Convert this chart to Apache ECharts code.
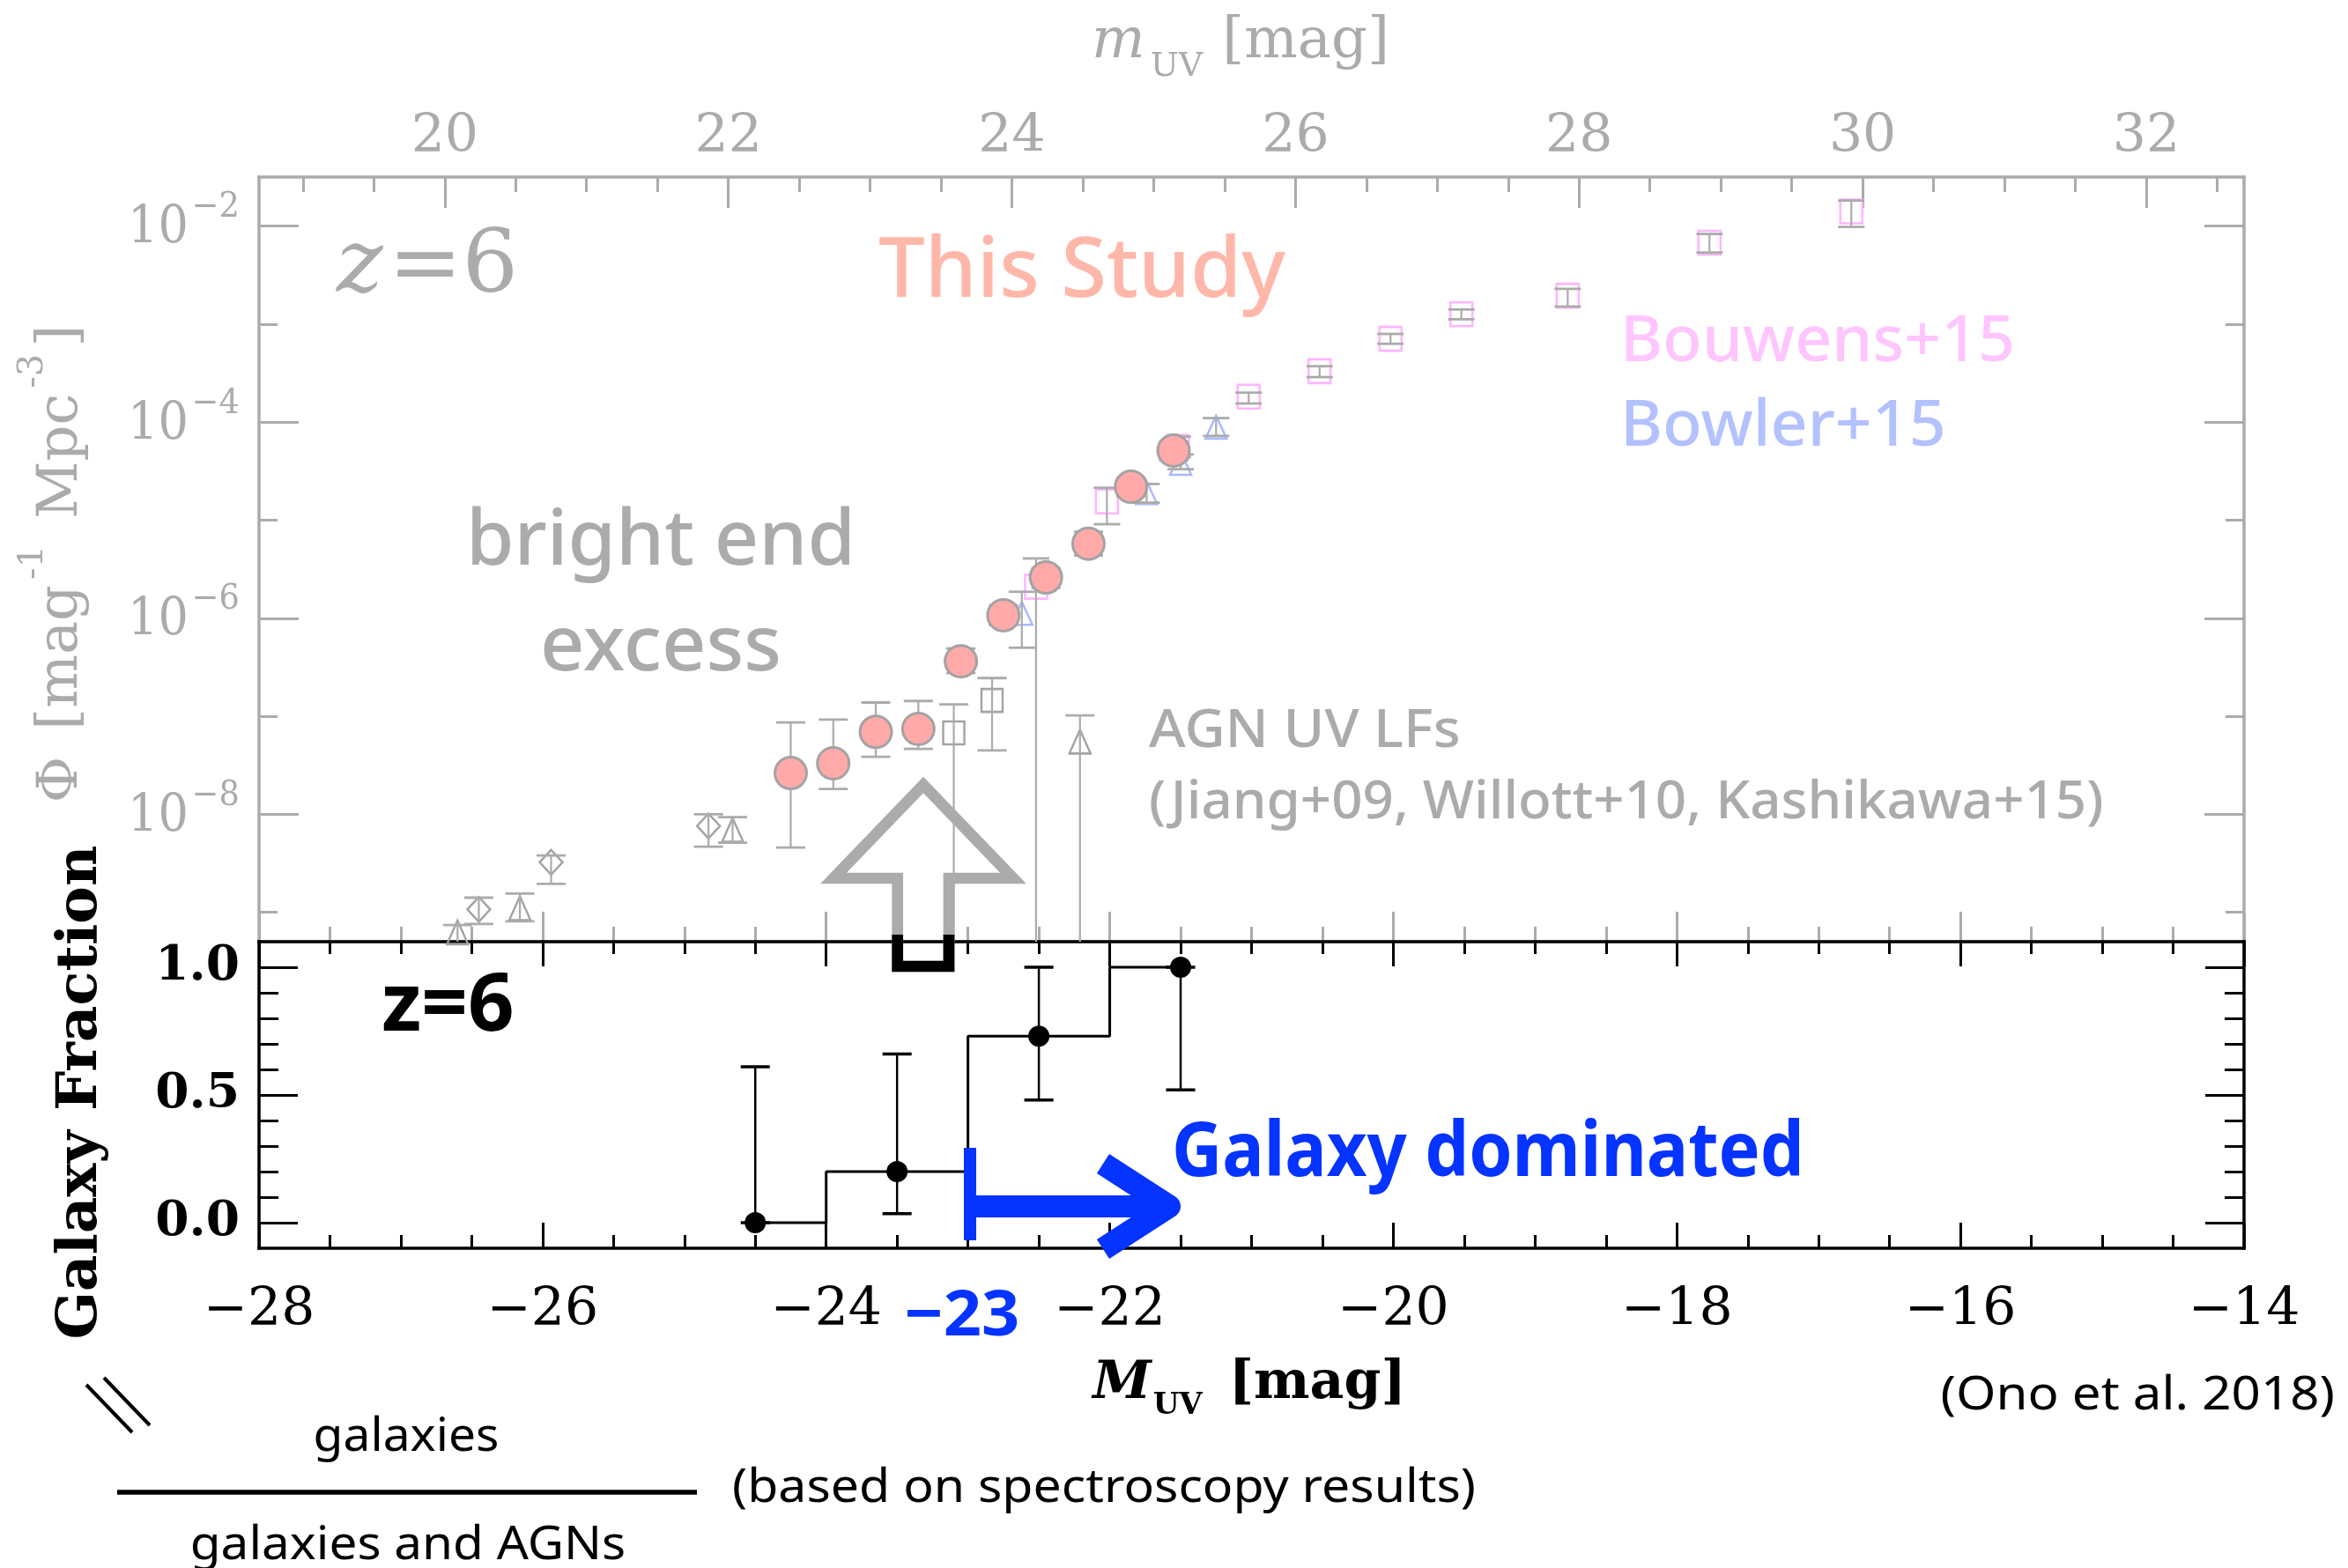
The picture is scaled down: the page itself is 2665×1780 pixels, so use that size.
<!DOCTYPE html>
<html>
<head>
<meta charset="utf-8">
<title>UV LF z=6 with galaxy fraction</title>
<script src="https://cdn.jsdelivr.net/npm/echarts@6.0.0/dist/echarts.min.js"></script>
<style>
html,body{margin:0;padding:0;background:#ffffff;}
#chart{width:2665px;height:1780px;}
</style>
</head>
<body>
<div id="chart"></div>
<script>
// ================= DATA =================
// This Study (pink circles): M_UV, Phi, lower / upper error ends
const studyM     = [-24.25, -23.95, -23.65, -23.35, -23.05, -22.75, -22.45, -22.15, -21.85, -21.55];
const studyPhi   = [2.63e-8, 3.31e-8, 6.92e-8, 7.41e-8, 3.63e-7, 1.07e-6, 2.60e-6, 5.75e-6, 2.19e-5, 5.13e-5];
const studyPhiLo = [4.58e-9, 1.81e-8, 3.86e-8, 4.65e-8, 2.75e-7, 8.5e-7, 2.04e-6, 4.37e-6, 1.74e-5, 4.07e-5];
const studyPhiHi = [8.63e-8, 9.25e-8, 1.38e-7, 1.43e-7, 4.9e-7, 1.35e-6, 3.24e-6, 7.6e-6, 2.69e-5, 6.3e-5];

// Bouwens+15 (pink squares); lower = 0 means the bar runs off the bottom
const bouwensM     = [-22.52, -22.02, -21.52, -21.02, -20.52, -20.02, -19.52, -18.77, -17.77, -16.77];
const bouwensPhi   = [2.09e-6, 1.55e-5, 5.6e-5, 1.82e-4, 3.31e-4, 7.08e-4, 1.26e-3, 1.95e-3, 6.76e-3, 1.41e-2];
const bouwensPhiLo = [0, 9.1e-6, 4.4e-5, 1.55e-4, 2.88e-4, 6.3e-4, 1.12e-3, 1.51e-3, 5.37e-3, 9.8e-3];
const bouwensPhiHi = [4.07e-6, 2.14e-5, 7.1e-5, 2.0e-4, 3.72e-4, 7.94e-4, 1.41e-3, 2.29e-3, 8.3e-3, 1.82e-2];

// Bowler+15 (blue triangles)
const bowlerM     = [-22.62, -21.74, -21.50, -21.25];
const bowlerPhi   = [1.12e-6, 1.91e-5, 3.8e-5, 8.9e-5];
const bowlerPhiLo = [5.0e-7, 1.51e-5, 3.31e-5, 7.24e-5];
const bowlerPhiHi = [1.86e-6, 2.34e-5, 4.68e-5, 1.10e-4];

// AGN UV LFs (grey): diamonds, triangles, squares
const agnDiaM     = [-26.45, -25.94, -24.83];
const agnDiaPhi   = [1.07e-9, 3.24e-9, 7.59e-9];
const agnDiaPhiLo = [7.6e-10, 1.95e-9, 4.68e-9];
const agnDiaPhiHi = [1.41e-9, 3.8e-9, 1.0e-8];
const agnTriM     = [-26.60, -26.16, -24.66, -22.21];
const agnTriPhi   = [6.24e-10, 1.10e-9, 6.92e-9, 5.5e-8];
const agnTriPhiLo = [0, 8.1e-10, 5.13e-9, 0];
const agnTriPhiHi = [7.4e-10, 1.55e-9, 9.33e-9, 1.02e-7];
const agnSqM      = [-23.10, -22.83];
const agnSqPhi    = [6.76e-8, 1.45e-7];
const agnSqPhiLo  = [0, 4.47e-8];
const agnSqPhiHi  = [1.32e-7, 2.45e-7];

// Galaxy fraction (lower panel)
const fracM  = [-24.5, -23.5, -22.5, -21.5];
const fracV  = [0.00, 0.20, 0.73, 1.00];
const fracLo = [0.00, 0.035, 0.48, 0.52];
const fracHi = [0.61, 0.66, 1.00, 1.00];

// Axis ticks & labels
const M_MIN = -28, M_MAX = -14;
const M_OFFSET = 46.69;                 // m_UV - M_UV
const M_MAJOR  = [-28, -26, -24, -22, -20, -18, -16, -14];
const M_LABELS = ['\u221228', '\u221226', '\u221224', '\u221222', '\u221220', '\u221218', '\u221216', '\u221214'];
const m_MAJOR  = [20, 22, 24, 26, 28, 30, 32];
const m_LABELS = ['20', '22', '24', '26', '28', '30', '32'];
const PHI_MIN = Math.pow(10, -9.3), PHI_MAX = Math.pow(10, -1.5);
const PHI_MAJOR = [1e-8, 1e-6, 1e-4, 1e-2];
const PHI_EXP   = ['\u22128', '\u22126', '\u22124', '\u22122'];
const PHI_MINOR = [1e-9, 1e-7, 1e-5, 1e-3];
const FRAC_MAJOR  = [0, 0.5, 1];
const FRAC_LABELS = ['0.0', '0.5', '1.0'];
const FRAC_MINOR  = [0, 0.1, 0.2, 0.3, 0.4, 0.5, 0.6, 0.7, 0.8, 0.9, 1.0];

// minor tick positions (every 0.5 mag)
const M_MINOR = [], m_MINOR = [];
for (let v = M_MIN; v <= M_MAX + 1e-9; v += 0.5) M_MINOR.push(v);
for (let v = 19; v <= 32.5 + 1e-9; v += 0.5) m_MINOR.push(v);

// ================= STYLE =================
const GREY = '#ababab';
const BLUE = '#0533ff';
const SERIF = "'DejaVu Serif', 'Liberation Serif', serif";
const SANS = "'Noto Sans', 'Open Sans', sans-serif";

const L = 294, R = 2665 - 2547, TOP = 201, HUP = 868, HLO = 348;
const grids = [
  {left: L, right: R, top: TOP, height: HUP},
  {left: L, right: R, top: TOP, height: HUP},
  {left: L, right: R, top: TOP + HUP, height: HLO},
  {left: L, right: R, top: TOP + HUP, height: HLO}
].map(g => Object.assign({containLabel: false, outerBoundsMode: 'none', show: false}, g));

function mkAxis(o) {
  return {
    type: o.type || 'value', gridIndex: o.grid, position: o.pos,
    min: o.min, max: o.max, logBase: 10, silent: true, z: o.z || 0,
    splitLine: {show: false}, splitArea: {show: false}, axisPointer: {show: false},
    axisLine: {show: !!o.line, onZero: false, lineStyle: {color: o.color, width: 3.5, cap: 'square'}},
    axisTick: {show: true, inside: true, length: o.tickLen, customValues: o.ticks,
               lineStyle: {color: o.color, width: 3}},
    axisLabel: o.labels ? Object.assign({show: true, customValues: o.labels}, o.labelStyle) : {show: false}
  };
}
const idxOf = (arr, v) => arr.findIndex(a => Math.abs(a - v) < 1e-6);

const xAxes = [
  mkAxis({grid: 0, pos: 'bottom', min: M_MIN, max: M_MAX, line: true, color: GREY, tickLen: 34, ticks: M_MAJOR}),
  mkAxis({grid: 0, pos: 'top', min: M_MIN + M_OFFSET, max: M_MAX + M_OFFSET, line: true, color: GREY, tickLen: 35, ticks: m_MAJOR,
          labels: m_MAJOR, labelStyle: {color: GREY, fontFamily: SERIF, fontSize: 60, margin: 15,
          formatter: v => m_LABELS[idxOf(m_MAJOR, v)]}}),
  mkAxis({grid: 1, pos: 'bottom', min: M_MIN, max: M_MAX, color: GREY, tickLen: 17, ticks: M_MINOR}),
  mkAxis({grid: 1, pos: 'top', min: M_MIN + M_OFFSET, max: M_MAX + M_OFFSET, color: GREY, tickLen: 17, ticks: m_MINOR}),
  mkAxis({grid: 2, pos: 'bottom', min: M_MIN, max: M_MAX, line: true, color: '#000', tickLen: 29, ticks: M_MAJOR, z: 2,
          labels: M_MAJOR, labelStyle: {color: '#000', fontFamily: SERIF, fontSize: 60, margin: 41,
          formatter: v => M_LABELS[idxOf(M_MAJOR, v)]}}),
  mkAxis({grid: 2, pos: 'top', min: M_MIN, max: M_MAX, line: true, color: '#000', tickLen: 28, ticks: M_MAJOR, z: 2}),
  mkAxis({grid: 3, pos: 'bottom', min: M_MIN, max: M_MAX, color: '#000', tickLen: 15, ticks: M_MINOR, z: 2}),
  mkAxis({grid: 3, pos: 'top', min: M_MIN, max: M_MAX, color: '#000', tickLen: 14, ticks: M_MINOR, z: 2})
];
const yAxes = [
  mkAxis({type: 'log', grid: 0, pos: 'left', min: PHI_MIN, max: PHI_MAX, line: true, color: GREY, tickLen: 45, ticks: PHI_MAJOR}),
  mkAxis({type: 'log', grid: 0, pos: 'right', min: PHI_MIN, max: PHI_MAX, line: true, color: GREY, tickLen: 45, ticks: PHI_MAJOR}),
  mkAxis({type: 'log', grid: 1, pos: 'left', min: PHI_MIN, max: PHI_MAX, color: GREY, tickLen: 21, ticks: PHI_MINOR}),
  mkAxis({type: 'log', grid: 1, pos: 'right', min: PHI_MIN, max: PHI_MAX, color: GREY, tickLen: 21, ticks: PHI_MINOR}),
  mkAxis({grid: 2, pos: 'left', min: -0.1, max: 1.1, line: true, color: '#000', tickLen: 44, ticks: FRAC_MAJOR, z: 2,
          labels: FRAC_MAJOR, labelStyle: {color: '#000', fontFamily: SERIF, fontWeight: 'bold', fontSize: 55, margin: 22,
          formatter: v => FRAC_LABELS[idxOf(FRAC_MAJOR, v)]}}),
  mkAxis({grid: 2, pos: 'right', min: -0.1, max: 1.1, line: true, color: '#000', tickLen: 44, ticks: FRAC_MAJOR, z: 2}),
  mkAxis({grid: 3, pos: 'left', min: -0.1, max: 1.1, color: '#000', tickLen: 22, ticks: FRAC_MINOR, z: 2}),
  mkAxis({grid: 3, pos: 'right', min: -0.1, max: 1.1, color: '#000', tickLen: 22, ticks: FRAC_MINOR, z: 2})
];

// ================= SERIES =================
function errSeries(M, lo, hi, o) {
  return {
    type: 'custom', xAxisIndex: o.xi, yAxisIndex: o.yi, z: o.z, silent: true,
    data: M.map((m, i) => [m, lo[i] > 0 || o.linear ? lo[i] : hi[i], hi[i], lo[i] > 0 || o.linear ? 1 : 0]),
    encode: {x: 0, y: [1, 2]},
    renderItem: function (params, api) {
      const x = api.value(0), lo = api.value(1), hi = api.value(2), hasLo = api.value(3);
      const cs = params.coordSys;
      const pH = api.coord([x, hi]);
      const pL = hasLo ? api.coord([x, lo]) : [pH[0], cs.y + cs.height];
      const hw = o.cap / 2;
      const ch = [
        {type: 'line', shape: {x1: pH[0], y1: pH[1], x2: pL[0], y2: pL[1]}, style: {stroke: o.color, lineWidth: o.lw}},
        {type: 'line', shape: {x1: pH[0] - hw, y1: pH[1], x2: pH[0] + hw, y2: pH[1]}, style: {stroke: o.color, lineWidth: o.capLw}}
      ];
      if (hasLo) ch.push({type: 'line', shape: {x1: pL[0] - hw, y1: pL[1], x2: pL[0] + hw, y2: pL[1]},
                          style: {stroke: o.color, lineWidth: o.capLw}});
      return {type: 'group', children: ch};
    }
  };
}
function symSeries(M, phi, sym, size, style, z, xi, yi) {
  return {type: 'scatter', xAxisIndex: xi || 0, yAxisIndex: yi || 0, symbol: sym, symbolSize: size, z: z,
          silent: true, emphasis: {disabled: true}, data: M.map((m, i) => [m, phi[i]]), itemStyle: style};
}
const hollow = c => ({color: 'rgba(255,255,255,0)', borderColor: c, borderWidth: 2.5, opacity: 1});
const eUp = {xi: 0, yi: 0, color: GREY, lw: 2.2, capLw: 2.8, cap: 33, z: 3};

const series = [
  // AGN
  symSeries(agnDiaM, agnDiaPhi, 'diamond', [26, 28], hollow('#a3a3a3'), 2),
  symSeries(agnTriM, agnTriPhi, 'triangle', [24, 27], hollow('#a3a3a3'), 2),
  symSeries(agnSqM, agnSqPhi, 'rect', [24, 26], hollow('#a3a3a3'), 2),
  errSeries(agnDiaM, agnDiaPhiLo, agnDiaPhiHi, eUp),
  errSeries(agnTriM, agnTriPhiLo, agnTriPhiHi, eUp),
  errSeries(agnSqM, agnSqPhiLo, agnSqPhiHi, eUp),
  // Bouwens+15
  symSeries(bouwensM, bouwensPhi, 'rect', [25, 27], hollow('#ffb4ff'), 2),
  errSeries(bouwensM, bouwensPhiLo, bouwensPhiHi, Object.assign({}, eUp, {cap: 30})),
  // Bowler+15
  symSeries(bowlerM, bowlerPhi, 'triangle', [24, 26], hollow('#aab8ff'), 2),
  errSeries(bowlerM, bowlerPhiLo, bowlerPhiHi, Object.assign({}, eUp, {cap: 30})),
  // This Study
  errSeries(studyM, studyPhiLo, studyPhiHi, Object.assign({}, eUp, {z: 4})),
  symSeries(studyM, studyPhi, 'circle', 36, {color: '#ffa9a9', borderColor: '#a3a3a3', borderWidth: 3, opacity: 1}, 5),
  // Galaxy fraction
  {type: 'line', xAxisIndex: 4, yAxisIndex: 4, step: 'middle', showSymbol: false, silent: true, z: 3,
   data: fracM.map((m, i) => [m, fracV[i]]), lineStyle: {color: '#000', width: 3}},
  errSeries(fracM, fracLo, fracHi, {xi: 4, yi: 4, color: '#000', lw: 2.5, capLw: 3.5, cap: 33, z: 3, linear: true}),
  symSeries(fracM, fracV, 'circle', 24, {color: '#000', opacity: 1}, 4, 4, 4)
];

// ================= ANNOTATIONS =================
const mctx = document.createElement('canvas').getContext('2d');
function fontStr(p) { return (p.style || 'normal') + ' ' + (p.weight || 'normal') + ' ' + p.size + 'px ' + (p.family || SERIF); }
function measure(t, font) { mctx.font = font; return mctx.measureText(t).width; }
function seqGroup(pieces, cx, cy, fill, rotation) {
  let x = 0; const kids = [];
  pieces.forEach(p => {
    const f = fontStr(p);
    const w = measure(p.t, f);
    kids.push({type: 'text', x: x, y: p.dy || 0,
      style: {text: p.t, font: f, fill: p.fill || fill, align: 'left', textAlign: 'left', verticalAlign: 'middle', textVerticalAlign: 'middle'}});
    x += w + (p.gap || 0);
  });
  kids.forEach(k => { k.x -= x / 2; });
  return {type: 'group', x: cx, y: cy, rotation: rotation || 0, children: kids, z: 100};
}
function txt(t, x, y, font, fill, align, extra) {
  return Object.assign({type: 'text', x: x, y: y, z: 100,
    style: {text: t, font: font, fill: fill, align: align, textAlign: align, verticalAlign: 'middle', textVerticalAlign: 'middle'}}, extra || {});
}

const graphics = [
  // axis titles
  seqGroup([{t: 'm', size: 64, style: 'italic', gap: 6}, {t: 'UV', size: 38, dy: 28, gap: 22}, {t: '[mag]', size: 64}], 1408, 48, GREY),
  seqGroup([{t: 'M', size: 60, style: 'italic', weight: 'bold', gap: 2}, {t: 'UV', size: 34, weight: 'bold', dy: 25, gap: 30},
            {t: '[mag]', size: 60, weight: 'bold'}], 1418, 1571, '#000'),
  seqGroup([{t: '\u03A6', size: 64, gap: 30}, {t: '[mag', size: 64, gap: 6}, {t: '-1', size: 40, dy: -32, gap: 30},
            {t: 'Mpc', size: 64, gap: 6}, {t: '-3', size: 40, dy: -32, gap: 8}, {t: ']', size: 64}], 70, 640, GREY, Math.PI / 2),
  seqGroup([{t: 'Galaxy Fraction', size: 64, weight: 'bold'}], 92, 1240, '#000', Math.PI / 2),
  // panel labels
  seqGroup([{t: 'z', size: 100, style: 'italic', gap: 6}, {t: '=6', size: 100}], 485, 305, GREY),
  txt('This Study', 997, 310, '500 94px ' + SANS, '#ffb7a9', 'left'),
  txt('Bouwens+15', 1839, 389, '500 72px ' + SANS, '#ffc5ff', 'left', {scaleX: 1.02}),
  txt('Bowler+15', 1839, 485, '500 72px ' + SANS, '#b3c1ff', 'left', {scaleX: 1.02}),
  txt('bright end', 750, 616, '500 88px ' + SANS, GREY, 'center'),
  txt('excess', 750, 736, '500 88px ' + SANS, GREY, 'center'),
  txt('AGN UV LFs', 1304, 831, '500 60px ' + SANS, GREY, 'left', {scaleX: 1.06}),
  txt('(Jiang+09, Willott+10, Kashikawa+15)', 1304, 912, '500 60px ' + SANS, GREY, 'left', {scaleX: 1.03}),
  txt('z=6', 433, 1144, 'bold 92px ' + SANS, '#000', 'left'),
  txt('Galaxy dominated', 1330, 1310, 'bold 86px ' + SANS, BLUE, 'left', {scaleX: 0.92}),
  txt('\u221223', 1092, 1495, 'bold 72px ' + SANS, BLUE, 'center', {scaleX: 1.05}),
  txt('(Ono et al. 2018)', 2650, 1585, 'normal 52px ' + SANS, '#000', 'right', {scaleX: 1.12}),
  txt('galaxies', 461, 1632, 'normal 52px ' + SANS, '#000', 'center', {scaleX: 1.06}),
  txt('galaxies and AGNs', 463, 1755, 'normal 52px ' + SANS, '#000', 'center', {scaleX: 1.09}),
  txt('(based on spectroscopy results)', 831, 1690, 'normal 52px ' + SANS, '#000', 'left', {scaleX: 1.1}),
  // fraction bar and break mark
  {type: 'line', z: 100, shape: {x1: 133, y1: 1694, x2: 791, y2: 1694}, style: {stroke: '#000', lineWidth: 5.5}},
  {type: 'line', z: 100, shape: {x1: 98, y1: 1572, x2: 150, y2: 1626}, style: {stroke: '#000', lineWidth: 4}},
  {type: 'line', z: 100, shape: {x1: 118, y1: 1564, x2: 170, y2: 1618}, style: {stroke: '#000', lineWidth: 4}},
  // grey up arrow (outlined)
  {type: 'polygon', z: 90, shape: {points: [[1018.7, 1097], [1018.7, 997], [946, 997], [1048, 891], [1150, 997], [1077, 997], [1077, 1097]]},
   style: {fill: 'none', stroke: GREY, lineWidth: 12.7, lineJoin: 'miter'}},
  {type: 'polyline', z: 91, shape: {points: [[1018.7, 1061], [1018.7, 1097], [1077, 1097], [1077, 1061]]},
   style: {fill: 'none', stroke: '#000', lineWidth: 12.7, lineJoin: 'miter'}},
  // blue "galaxy dominated" arrow
  {type: 'rect', z: 100, shape: {x: 1094, y: 1303, width: 14, height: 105}, style: {fill: BLUE}},
  {type: 'rect', z: 100, shape: {x: 1106, y: 1357, width: 215, height: 25}, style: {fill: BLUE}},
  {type: 'polyline', z: 100, shape: {points: [[1252, 1321], [1327, 1369.5], [1252, 1418]]},
   style: {fill: 'none', stroke: BLUE, lineWidth: 26, lineJoin: 'round'}}
];

const chart = echarts.init(document.getElementById('chart'), null, {renderer: 'canvas', width: 2665, height: 1780});
chart.setOption({
  animation: false,
  backgroundColor: '#ffffff',
  grid: grids,
  xAxis: xAxes,
  yAxis: yAxes,
  series: series,
  graphic: {elements: graphics}
});

// Left log-axis labels "10^n": positioned through the axis scale itself
const BASE_FONT = 'normal normal 60px ' + SERIF, SUP_FONT = 'normal normal 40px ' + SERIF;
const LABEL_RIGHT = L - 22;
const phiLabels = [];
PHI_MAJOR.forEach((v, i) => {
  const py = chart.convertToPixel({yAxisIndex: 0}, v);
  const supW = measure(PHI_EXP[i], SUP_FONT) * 0.92;
  phiLabels.push(txt('10', LABEL_RIGHT - supW - 4, py + 4, BASE_FONT, GREY, 'right', {scaleX: 0.9}));
  phiLabels.push(txt(PHI_EXP[i], LABEL_RIGHT, py - 21, SUP_FONT, GREY, 'right', {scaleX: 0.92}));
});
chart.setOption({graphic: {elements: graphics.concat(phiLabels)}});
</script>
</body>
</html>
